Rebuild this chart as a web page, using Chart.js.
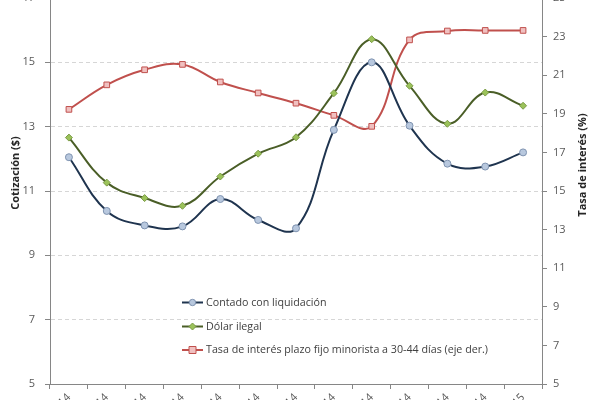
<!DOCTYPE html>
<html>
<head>
<meta charset="utf-8">
<script src="https://cdn.jsdelivr.net/npm/chart.js@4/dist/chart.umd.min.js"></script>
<style>
  html, body { margin: 0; padding: 0; background: #fff; }
  #wrap { position: relative; width: 600px; height: 400px; overflow: hidden; }
  #chart { position: absolute; left: 0; top: -20px; }
</style>
</head>
<body>
<div id="wrap"><canvas id="chart" width="600" height="450"></canvas></div>
<script>
// months, tails of the rotated labels are all that shows
const labels = ["ene-14", "feb-14", "mar-14", "abr-14", "may-14", "jun-14", "jul-14",
  "ago-14", "sep-14", "oct-14", "nov-14", "dic-14", "ene-15"];

// left axis ($)
const contadoLiqui = [12.05, 10.38, 9.93, 9.9, 10.75, 10.1, 9.84, 12.9, 15.0, 13.03, 11.85, 11.76, 12.2];
const dolarIlegal = [12.66, 11.26, 10.78, 10.54, 11.45, 12.16, 12.67, 14.04, 15.72, 14.27, 13.09, 14.06, 13.65];
// right axis (%)
const tasaPlazoFijo = [19.23, 20.5, 21.28, 21.56, 20.65, 20.08, 19.55, 18.92, 18.35, 22.83, 23.29, 23.32, 23.32];

const legendNames = ["Contado con liquidación", "Dólar ilegal",
  "Tasa de interés plazo fijo minorista a 30-44 días (eje der.)"];

const OFFSET = 20; // canvas is shifted up by this much
const FONT = "'Open Sans', 'Liberation Sans', sans-serif";
const tickColor = "#595959";

// legend box + axis titles drawn by hand, placed like the original
const extras = {
  id: "extras",
  afterDraw(chart) {
    const ctx = chart.ctx;
    ctx.save();
    const rows = [302.5, 326.5, 350];
    chart.data.datasets.forEach((ds, i) => {
      const y = rows[i] + OFFSET;
      ctx.strokeStyle = ds.borderColor;
      ctx.lineWidth = 2;
      ctx.beginPath();
      ctx.moveTo(182, y);
      ctx.lineTo(203, y);
      ctx.stroke();
      ctx.fillStyle = ds.pointBackgroundColor;
      ctx.strokeStyle = ds.pointBorderColor;
      ctx.lineWidth = 1;
      ctx.beginPath();
      if (ds.pointStyle === "rect") {
        ctx.rect(189, y - 3.5, 7, 7);
      } else if (ds.pointStyle === "rectRot") {
        ctx.moveTo(192.5, y - 3.5);
        ctx.lineTo(196, y);
        ctx.lineTo(192.5, y + 3.5);
        ctx.lineTo(189, y);
        ctx.closePath();
      } else {
        ctx.arc(192.5, y, 3.2, 0, Math.PI * 2);
      }
      ctx.fill();
      ctx.stroke();
      ctx.fillStyle = "#404040";
      ctx.font = "10.7px " + FONT;
      ctx.textBaseline = "middle";
      ctx.fillText(legendNames[i], 206, y);
    });

    ctx.font = "bold 11px " + FONT;
    ctx.fillStyle = "#262626";
    ctx.textAlign = "center";
    ctx.textBaseline = "middle";
    ctx.translate(16, 173 + OFFSET);
    ctx.rotate(-Math.PI / 2);
    ctx.fillText("Cotización ($)", 0, 0);
    ctx.setTransform(1, 0, 0, 1, 0, 0);
    ctx.translate(583, 165 + OFFSET);
    ctx.rotate(-Math.PI / 2);
    ctx.fillText("Tasa de interés (%)", 0, 0);
    ctx.restore();
  },
};

new Chart(document.getElementById("chart"), {
  type: "line",
  data: {
    labels: labels,
    datasets: [
      {
        label: legendNames[0],
        data: contadoLiqui,
        yAxisID: "y",
        borderColor: "#1f344f",
        borderWidth: 2,
        pointStyle: "circle",
        pointRadius: 3.5,
        pointBackgroundColor: "#b8c8de",
        pointBorderColor: "#7f93b0",
        pointBorderWidth: 1,
        tension: 0.4,
      },
      {
        label: legendNames[1],
        data: dolarIlegal,
        yAxisID: "y",
        borderColor: "#4a5e27",
        borderWidth: 2,
        pointStyle: "rectRot",
        pointRadius: 3.5,
        pointBackgroundColor: "#9bc25a",
        pointBorderColor: "#7a9a45",
        pointBorderWidth: 1,
        tension: 0.4,
      },
      {
        label: legendNames[2],
        data: tasaPlazoFijo,
        yAxisID: "y1",
        borderColor: "#c0504d",
        borderWidth: 2,
        pointStyle: "rect",
        pointRadius: 4,
        pointBackgroundColor: "#f0c0c0",
        pointBorderColor: "#c0504d",
        pointBorderWidth: 1,
        tension: 0.4,
      },
    ],
  },
  options: {
    responsive: false,
    animation: false,
    layout: { padding: { top: 18, left: 0, right: 0, bottom: 0 } },
    plugins: { legend: { display: false }, tooltip: { enabled: false } },
    scales: {
      x: {
        offset: true,
        afterFit: (s) => { s.height = 46; },
        grid: { offset: true, drawOnChartArea: false, tickLength: 5, color: "#868686" },
        border: { color: "#868686" },
        ticks: {
          color: tickColor, font: { size: 11, family: FONT },
          maxRotation: 45, minRotation: 45, padding: 2, autoSkip: false,
        },
      },
      y: {
        position: "left",
        min: 5, max: 17,
        afterFit: (s) => { s.width = 50; },
        ticks: { stepSize: 2, color: tickColor, font: { size: 11, family: FONT }, padding: 10 },
        grid: { color: "#d6d6d6", tickLength: 5, tickColor: "#868686", drawTicks: true },
        border: { color: "#868686", dash: [4, 3] },
      },
      y1: {
        position: "right",
        min: 5, max: 25,
        afterFit: (s) => { s.width = 58; },
        ticks: { stepSize: 2, color: tickColor, font: { size: 11, family: FONT }, padding: 6 },
        grid: { drawOnChartArea: false, tickLength: 5, color: "#868686" },
        border: { color: "#868686" },
      },
    },
  },
  plugins: [extras],
});
</script>
</body>
</html>
